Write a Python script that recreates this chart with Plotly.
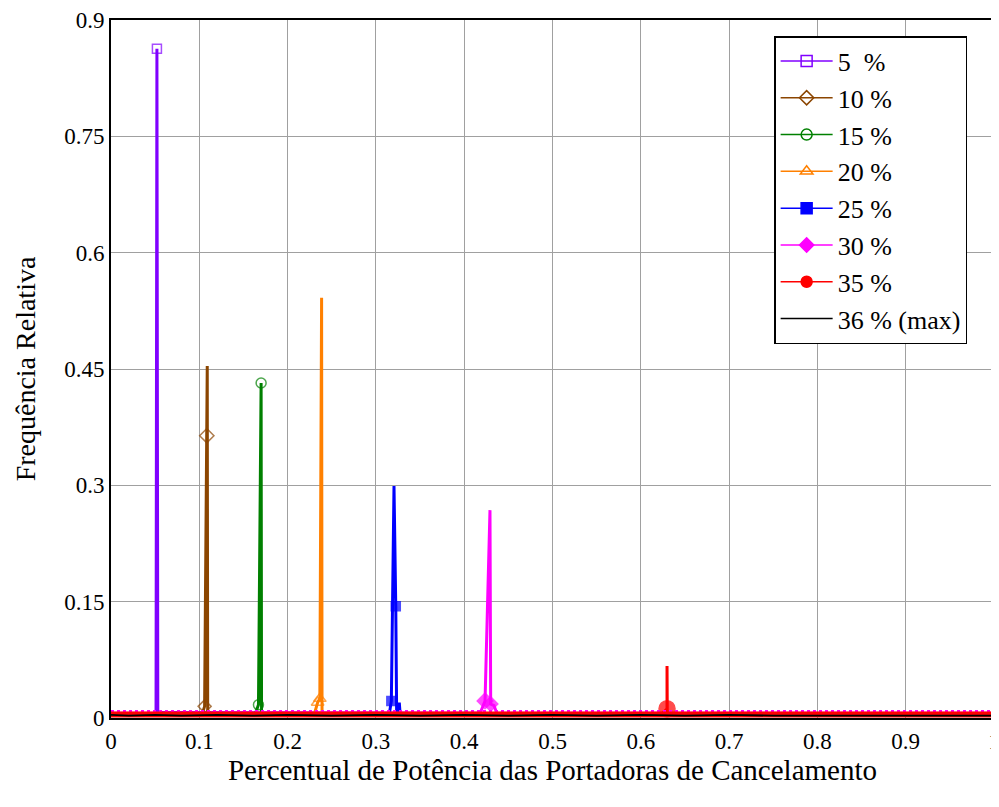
import plotly.graph_objects as go

# ---- data ----
names = ["5\u00a0 %", "10 %", "15 %", "20 %", "25 %", "30 %", "35 %", "36 % (max)"]
colors = ["#8000ff", "#8b4500", "#008000", "#ff8000", "#0000ff", "#ff00ff", "#ff0000", "#000000"]
symbols = ["square-open", "diamond-open", "circle-open", "triangle-up-open",
           "square", "diamond", "circle", "circle"]

x5 = [0.0, 0.051, 0.052, 0.053, 0.060, 1.0]
y5 = [0.004, 0.004, 0.863, 0.007, 0.007, 0.004]
m5 = [0, 0, 9, 0, 0, 0]

x10 = [0.0, 0.103, 0.106, 0.1085, 0.109, 0.1095, 0.113, 1.0]
y10 = [0.004, 0.004, 0.015, 0.364, 0.454, 0.010, 0.005, 0.004]
m10 = [0, 0, 10, 11, 0, 0, 0, 0]

x15 = [0.0, 0.163, 0.167, 0.170, 0.1705, 0.175, 1.0]
y15 = [0.004, 0.004, 0.017, 0.432, 0.005, 0.004, 0.004]
m15 = [0, 0, 10, 10, 0, 0, 0]

x20 = [0.0, 0.230, 0.234, 0.2365, 0.2385, 0.2390, 0.245, 1.0]
y20 = [0.004, 0.004, 0.020, 0.025, 0.542, 0.006, 0.004, 0.004]
m20 = [0, 0, 11, 11, 0, 0, 0, 0]

x25 = [0.0, 0.315, 0.3175, 0.3205, 0.3225, 0.3235, 0.3265, 0.3275, 1.0]
y25 = [0.004, 0.004, 0.022, 0.299, 0.144, 0.005, 0.020, 0.004, 0.004]
m25 = [0, 0, 9, 0, 9, 0, 0, 0, 0]

x30 = [0.0, 0.418, 0.4236, 0.4292, 0.4300, 0.4337, 0.437, 1.0]
y30 = [0.006, 0.006, 0.022, 0.268, 0.018, 0.016, 0.006, 0.006]
m30 = [0, 0, 12, 0, 11, 0, 0, 0]

x35 = [0.0, 0.624, 0.6297, 0.6297, 0.6300, 0.636, 1.0]
y35 = [0.005, 0.005, 0.012, 0.067, 0.006, 0.005, 0.005]
m35 = [0, 0, 16, 0, 0, 0, 0]

x36 = [0.0, 0.02, 0.05, 0.08, 0.12, 0.16, 0.20, 0.25, 0.30, 0.35, 0.40, 0.45,
       0.50, 0.55, 0.60, 0.65, 0.70, 0.75, 0.80, 0.90, 1.0]
y36 = [0.004, 0.003, 0.004, 0.003, 0.004, 0.003, 0.004, 0.003, 0.004, 0.003, 0.004, 0.003,
       0.004, 0.003, 0.004, 0.003, 0.004, 0.003, 0.003, 0.003, 0.003]

# near-zero floor of the distributions (dense marker band in the original)
floor_x = [0.0, 1.0]
floor_magenta = [0.0085, 0.0085]
floor_red = [0.0045, 0.0045]

x_ticks = [0, 0.1, 0.2, 0.3, 0.4, 0.5, 0.6, 0.7, 0.8, 0.9, 1]
x_labels = ["0", "0.1", "0.2", "0.3", "0.4", "0.5", "0.6", "0.7", "0.8", "0.9", "1"]
y_ticks = [0, 0.15, 0.3, 0.45, 0.6, 0.75, 0.9]
y_labels = ["0", "0.15", "0.3", "0.45", "0.6", "0.75", "0.9"]

series = [(x5, y5, m5), (x10, y10, m10), (x15, y15, m15), (x20, y20, m20),
          (x25, y25, m25), (x30, y30, m30), (x35, y35, m35)]

FONT = "Liberation Serif"

fig = go.Figure()

for i, (xs, ys, ms) in enumerate(series):
    fig.add_trace(go.Scatter(
        x=xs, y=ys, mode="lines+markers", name=names[i],
        line=dict(color=colors[i], width=3),
        marker=dict(symbol=symbols[i], size=ms, color=colors[i],
                    line=dict(color=colors[i], width=1.5)),
        showlegend=False,
    ))

# floor band
fig.add_trace(go.Scatter(x=floor_x, y=floor_magenta, mode="lines",
                         line=dict(color="#ff00ff", width=3, dash="dot"),
                         showlegend=False, hoverinfo="skip"))
fig.add_trace(go.Scatter(x=floor_x, y=floor_red, mode="lines",
                         line=dict(color="#ff0000", width=6),
                         showlegend=False, hoverinfo="skip"))
fig.add_trace(go.Scatter(x=x36, y=y36, mode="lines", name=names[7],
                         line=dict(color="#000000", width=1.8),
                         showlegend=False))

# legend entries
for i in range(7):
    fig.add_trace(go.Scatter(
        x=[None], y=[None], mode="lines+markers", name=names[i],
        line=dict(color=colors[i], width=1.5),
        marker=dict(symbol=symbols[i], size=11, color=colors[i],
                    line=dict(color=colors[i], width=1.5)),
    ))
fig.add_trace(go.Scatter(x=[None], y=[None], mode="lines", name=names[7],
                         line=dict(color="#000000", width=1.5)))

fig.update_layout(
    width=999, height=807,
    margin=dict(l=103, r=13, t=12, b=97),
    paper_bgcolor="white", plot_bgcolor="white",
    font=dict(family=FONT, size=20, color="black"),
    showlegend=True,
    legend=dict(x=0.751, y=0.977, xanchor="left", yanchor="top",
                bgcolor="white", bordercolor="black", borderwidth=1.5,
                font=dict(family=FONT, size=26, color="black"),
                tracegroupgap=0, itemwidth=52),
    xaxis=dict(range=[0, 1], tickvals=x_ticks, ticktext=x_labels,
               showgrid=True, gridcolor="#a0a0a0", gridwidth=1,
               showline=True, linecolor="black", linewidth=1.5, mirror=True,
               ticks="outside", ticklen=2, tickcolor="rgba(0,0,0,0)",
               zeroline=False, automargin=False,
               title=dict(text="Percentual de Potência das Portadoras de Cancelamento",
                          font=dict(family=FONT, size=29), standoff=1),
               tickfont=dict(family=FONT, size=23)),
    yaxis=dict(range=[0, 0.9], tickvals=y_ticks, ticktext=y_labels,
               showgrid=True, gridcolor="#a0a0a0", gridwidth=1,
               showline=True, linecolor="black", linewidth=2, mirror=True,
               ticks="", zeroline=False, automargin=False,
               title=dict(text="Frequência Relativa", font=dict(family=FONT, size=28), standoff=20),
               tickfont=dict(family=FONT, size=23)),
)

fig.write_html("out.html")
